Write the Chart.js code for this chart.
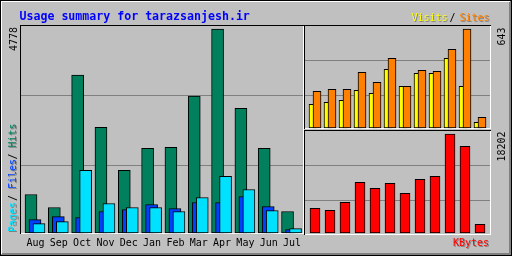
<!DOCTYPE html>
<html><head><meta charset="utf-8">
<script src="https://cdn.jsdelivr.net/npm/chart.js@4"></script>
<style>
html,body{margin:0;padding:0;background:#fff;}
#wrap{position:relative;width:512px;height:256px;overflow:hidden;}
#wrap canvas{position:absolute;left:0;top:0;}
</style></head><body>
<div id="wrap">
<canvas id="cMain" width="512" height="256"></canvas>
<canvas id="cTop" width="512" height="256"></canvas>
<canvas id="cBot" width="512" height="256"></canvas>
</div>
<script>
const months = ['Aug','Sep','Oct','Nov','Dec','Jan','Feb','Mar','Apr','May','Jun','Jul'];
const hits   = [902,597,3697,2476,1466,1983,2006,3204,4778,2922,1983,503];
const files  = [315,385,362,503,550,667,573,714,714,855,620,80];
const pages  = [221,268,1466,691,597,597,503,832,1325,1019,526,103];
const visits = [154,167,180,245,225,381,271,355,355,453,271,37];
const sites  = [238,251,251,362,297,453,271,375,368,511,643,69];
const kbytes = [4541,4174,5644,9322,8218,9138,7299,9873,10425,18202,15941,1600];

const title = 'Usage summary for tarazsanjesh.ir';
const maxHits = Math.max(...hits), maxSites = Math.max(...sites, ...visits), maxKB = Math.max(...kbytes);

const C = {bg:'#C0C0C0', dk:'#808080', hits:'#00805C', files:'#0040FF', pages:'#00E0FF',
           visits:'#FFFF00', sites:'#FF8000', kb:'#FF0000', title:'#0000FF'};
const MONO = '"DejaVu Sans Mono", monospace';

function rect(ctx,x,y,w,h,c){ctx.fillStyle=c;ctx.fillRect(x,y,w,h);}
function hline(ctx,y,x0,x1,c){rect(ctx,x0,y,x1-x0+1,1,c);}
function vline(ctx,x,y0,y1,c){rect(ctx,x,y0,1,y1-y0+1,c);}

const framePlugin = {id:'frame', beforeDraw(chart){
  const ctx = chart.ctx; ctx.save();
  rect(ctx,0,0,512,256,C.bg);
  hline(ctx,0,0,511,'#000'); hline(ctx,255,0,511,'#000');
  vline(ctx,0,0,255,'#000'); vline(ctx,511,0,255,'#000');
  hline(ctx,1,1,509,'#fff'); vline(ctx,1,1,253,'#fff');
  hline(ctx,253,2,510,C.dk); hline(ctx,254,1,510,C.dk);
  vline(ctx,509,2,254,C.dk); vline(ctx,510,1,254,C.dk);
  // main panel
  hline(ctx,25,20,303,'#000'); vline(ctx,20,25,233,'#000');
  hline(ctx,233,21,303,'#fff'); vline(ctx,303,26,233,'#fff');
  // top right panel
  hline(ctx,25,304,490,'#000'); vline(ctx,304,25,128,'#000');
  hline(ctx,128,305,490,'#fff'); vline(ctx,490,26,128,'#fff');
  // bottom right panel
  hline(ctx,130,304,490,'#000'); vline(ctx,304,130,234,'#000');
  hline(ctx,234,305,490,'#fff'); vline(ctx,490,131,234,'#fff');
  ctx.restore();
}};

function gridPlugin(x0,x1){ return {id:'panelGrid', beforeDatasetsDraw(chart){
  const y = chart.scales.y, ctx = chart.ctx; ctx.save();
  ctx.strokeStyle = C.dk; ctx.lineWidth = 1;
  for (let k=1;k<3;k++){
    const v = y.min + (y.max-y.min)*k/3;
    const py = Math.round(y.getPixelForValue(v)) + 0.5;
    ctx.beginPath(); ctx.moveTo(x0,py); ctx.lineTo(x1,py); ctx.stroke();
  }
  ctx.restore();
}};}

const shiftPlugin = {id:'shift',
  beforeDatasetDraw(chart,args){ const dx = chart.data.datasets[args.index].dx || 0; chart.ctx.save(); chart.ctx.translate(dx,0); },
  afterDatasetDraw(chart){ chart.ctx.restore(); }
};

function txt(ctx,s,x,y,color,shadow,font){
  ctx.save(); ctx.font = font || ('10px '+MONO); ctx.textAlign='left'; ctx.textBaseline='alphabetic';
  if (shadow){ ctx.shadowColor=C.dk; ctx.shadowOffsetX=1; ctx.shadowOffsetY=1; ctx.shadowBlur=0; }
  ctx.fillStyle=color; ctx.fillText(s,x,y); ctx.restore();
}
function upTxt(ctx,s,x,y,color,shadow){
  ctx.save(); ctx.translate(x,y); ctx.rotate(-Math.PI/2);
  ctx.font='10px '+MONO; ctx.textAlign='left'; ctx.textBaseline='alphabetic';
  if (shadow){ ctx.shadowColor=C.dk; ctx.shadowOffsetX=1; ctx.shadowOffsetY=1; ctx.shadowBlur=0; }
  ctx.fillStyle=color; ctx.fillText(s,0,0); ctx.restore();
}

const textPlugin = {id:'texts', afterDraw(chart){
  const ctx = chart.ctx;
  txt(ctx,title,19.5,19.5,C.title,false,'bold 11.6px '+MONO);
  txt(ctx,'Visits',411.5,20.5,C.visits,true);
  txt(ctx,'/',449.5,20.5,'#000',false);
  txt(ctx,'Sites',459.5,20.5,C.sites,true);
  // month labels via x scale
  const xs = chart.scales.x;
  ctx.save(); ctx.font='10px '+MONO; ctx.textAlign='center'; ctx.fillStyle='#000';
  months.forEach((m,i)=>ctx.fillText(m, xs.getPixelForValue(i)+0.5, 246));
  ctx.restore();
  txt(ctx,'KBytes',453,246,C.kb,true);
  upTxt(ctx,'Pages',16,232,C.pages,true);
  upTxt(ctx,'/',16,201,'#000',false);
  upTxt(ctx,'Files',16,189,C.files,true);
  upTxt(ctx,'/',16,159.5,'#000',false);
  upTxt(ctx,'Hits',16,147.5,C.hits,true);
  upTxt(ctx,String(maxHits),16.5,51,'#000',false);
  upTxt(ctx,String(maxSites),504.5,45.5,'#000',false);
  upTxt(ctx,String(maxKB),504.5,161.5,'#000',false);
}};

function barDs(label,data,color,thick,dx,order){
  return {label,data,backgroundColor:color,borderColor:'#000',borderWidth:1,borderSkipped:false,
          barThickness:thick,grouped:false,clip:false,dx,order};
}
function baseOpts(pad,ymin,ymax){
  return {responsive:false, animation:false, devicePixelRatio:1, events:[],
    layout:{padding:pad},
    scales:{x:{display:false}, y:{display:false,min:ymin,max:ymax}},
    plugins:{legend:{display:false},tooltip:{enabled:false},title:{display:false}}};
}

// main: 0 at 2px above area bottom, max value 204px tall in a 210px area
new Chart(document.getElementById('cMain'), {
  type:'bar',
  data:{labels:months, datasets:[
    barDs('Hits',hits,C.hits,12,-4,3),
    barDs('Files',files,C.files,12,0,2),
    barDs('Pages',pages,C.pages,12,4,1)
  ]},
  options: baseOpts({left:23.34,right:208.8,top:25,bottom:21}, -maxHits*2/204, maxHits*208/204),
  plugins:[framePlugin, gridPlugin(21,303), shiftPlugin, textPlugin]
});

new Chart(document.getElementById('cTop'), {
  type:'bar',
  data:{labels:months, datasets:[
    barDs('Visits',visits,C.visits,8,-2,2),
    barDs('Sites',sites,C.sites,8,2,1)
  ]},
  options: baseOpts({left:307.5,right:24.5,top:25,bottom:126}, -maxSites*2/99, maxSites*103/99),
  plugins:[gridPlugin(305,490), shiftPlugin]
});

new Chart(document.getElementById('cBot'), {
  type:'bar',
  data:{labels:months, datasets:[
    barDs('KBytes',kbytes,C.kb,10,0,1)
  ]},
  options: baseOpts({left:307.5,right:24.5,top:130,bottom:21}, -maxKB*2/99, maxKB*103/99),
  plugins:[gridPlugin(305,490), shiftPlugin]
});
</script>
</body></html>
